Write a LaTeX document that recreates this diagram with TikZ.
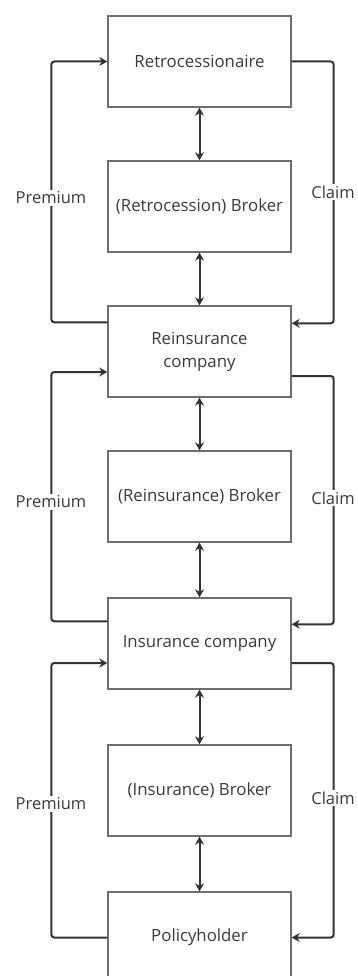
\documentclass[tikz,border=0pt]{standalone}
\usepackage{fontspec}
\setmainfont{Open Sans}
\usetikzlibrary{arrows.meta}
\definecolor{linedark}{HTML}{333333}
\definecolor{boxline}{HTML}{6E6E6E}
\definecolor{textgray}{HTML}{3A3A3A}
\begin{document}
\begin{tikzpicture}[x=1pt,y=-1pt,
  party/.style={draw=boxline, line width=1.4pt, rectangle,
    minimum width=183pt, minimum height=91pt, align=center,
    text=textgray, font=\fontsize{16.8}{23}\selectfont},
  flow/.style={draw=linedark, line width=2pt, rounded corners=3pt,
    -{Stealth[length=8pt,width=9pt]}},
  link/.style={draw=linedark, line width=2pt,
    {Stealth[length=8pt,width=9pt]}-{Stealth[length=8pt,width=9pt]}},
  tag/.style={fill=white, inner sep=2pt, text=textgray,
    font=\fontsize{16.5}{20}\selectfont}]
\useasboundingbox (0,0) rectangle (357,976);
\clip (0,0) rectangle (357,976);

% the chain of parties
\node[party] (rt) at (199.5,61.5) {Retrocessionaire};
\node[party] (rb) at (199.5,206.5) {(Retrocession) Broker};
\node[party] (rc) at (199.5,351.5) {Reinsurance\\company};
\node[party] (bb) at (199.5,496.5) {(Reinsurance) Broker};
\node[party] (ic) at (199.5,643.5) {Insurance company};
\node[party] (ib) at (199.5,790.5) {(Insurance) Broker};
\node[party] (ph) at (199.5,937.5) {Policyholder};

% two-way links through the brokers
\draw[link] (rt.south) -- (rb.north);
\draw[link] (rb.south) -- (rc.north);
\draw[link] (rc.south) -- (bb.north);
\draw[link] (bb.south) -- (ic.north);
\draw[link] (ic.south) -- (ib.north);
\draw[link] (ib.south) -- (ph.north);

% premiums flow upwards on the left
\draw[flow] ([yshift=-17pt]rc.north west) -- ++(-56,0) |- (rt.west);
\draw[flow] ([yshift=-24pt]ic.north west) -- ++(-56,0) |- ([yshift=-20.5pt]rc.west);
\draw[flow] (ph.west) -- ++(-56,0) |- ([yshift=-19.5pt]ic.west);

% claims flow downwards on the right
\draw[flow] (rt.east) -- ++(42,0) |- ([yshift=-18pt]rc.north east);
\draw[flow] ([yshift=-24.5pt]rc.east) -- ++(42,0) |- ([yshift=-27pt]ic.north east);
\draw[flow] ([yshift=-19.5pt]ic.east) -- ++(42,0) |- (ph.east);

% labels on the loops
\node[tag] (p1) at (51,198) {Premium};
\node[tag] (p2) at (51,502) {Premium};
\node[tag] (p3) at (51,804) {Premium};
\node[tag] (c1) at (333,192) {Claim};
\node[tag] (c2) at (333,498) {Claim};
\node[tag] (c3) at (333,798) {Claim};
\end{tikzpicture}
\end{document}
